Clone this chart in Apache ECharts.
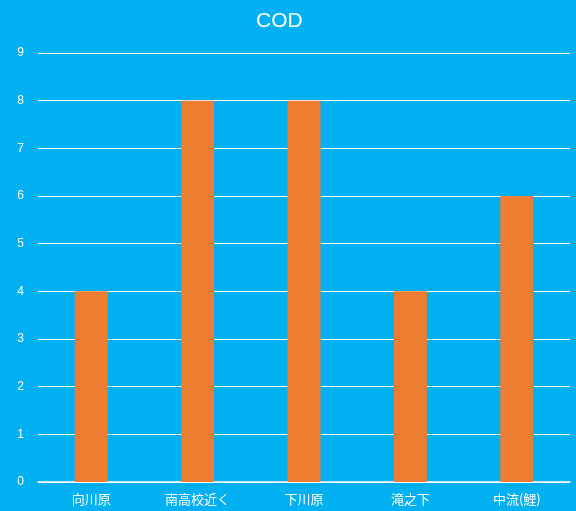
<!DOCTYPE html>
<html><head><meta charset="utf-8">
<script src="https://cdn.jsdelivr.net/npm/echarts@6/dist/echarts.min.js"></script>
<style>html,body{margin:0;padding:0;background:#00B0F0;}#c{width:576px;height:511px;}</style>
</head><body><div id="c"></div>
<script>
const categories = ['向川原', '南高校近く', '下川原', '滝之下', '中流(鯉)'];
const values = [4, 8, 8, 4, 6];
const chart = echarts.init(document.getElementById('c'));
chart.setOption({
  backgroundColor: '#00B0F0',
  animation: false,
  title: { text: 'COD', left: 251, top: 6,
    textStyle: { color: '#fff', fontSize: 21, fontWeight: 'normal', fontFamily: 'Liberation Sans, Arial, sans-serif' } },
  grid: { left: 38, right: 6, top: 53, bottom: 29 },
  xAxis: { type: 'category', data: categories,
    axisLine: { lineStyle: { color: '#fff', width: 1.5 } }, axisTick: { show: false },
    axisLabel: { color: '#fff', fontSize: 13, margin: 11, fontFamily: 'Noto Sans CJK JP, sans-serif' } },
  yAxis: { type: 'value', min: 0, max: 9, interval: 1,
    axisLine: { show: false }, axisTick: { show: false },
    axisLabel: { color: '#fff', fontSize: 12, margin: 14, fontFamily: 'Liberation Sans, Arial, sans-serif' },
    splitLine: { lineStyle: { color: '#fff', width: 1 } } },
  series: [{ type: 'bar', data: values, barWidth: 33, itemStyle: { color: '#ED7D31' } }]
});
</script></body></html>
